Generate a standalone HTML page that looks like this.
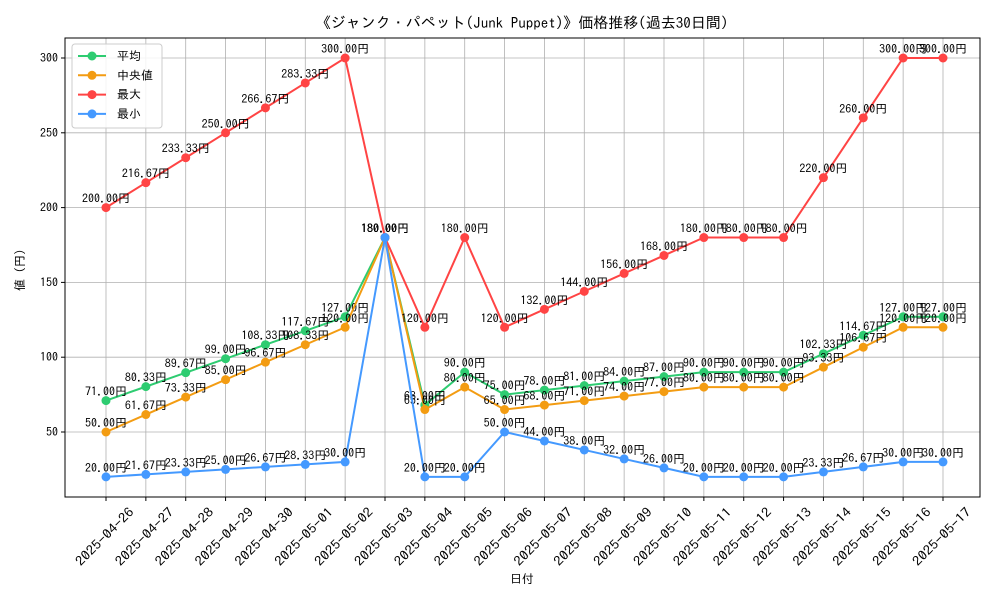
<!DOCTYPE html>
<html><head><meta charset="utf-8"><style>
body{margin:0;background:#fff}
svg text{font-family:"IPAGothic","Liberation Sans","Noto Sans CJK JP",sans-serif}
</style></head><body>
<svg id="c" width="1000" height="600" xmlns="http://www.w3.org/2000/svg"></svg>
<script>
const dates=["2025-04-26","2025-04-27","2025-04-28","2025-04-29","2025-04-30","2025-05-01","2025-05-02","2025-05-03","2025-05-04","2025-05-05","2025-05-06","2025-05-07","2025-05-08","2025-05-09","2025-05-10","2025-05-11","2025-05-12","2025-05-13","2025-05-14","2025-05-15","2025-05-16","2025-05-17"];
const meanVals=[71,80.33,89.67,99,108.33,117.67,127,180,68,90,75,78,81,84,87,90,90,90,102.33,114.67,127,127];
const medianVals=[50,61.67,73.33,85,96.67,108.33,120,180,65,80,65,68,71,74,77,80,80,80,93.33,106.67,120,120];
const maxVals=[200,216.67,233.33,250,266.67,283.33,300,180,120,180,120,132,144,156,168,180,180,180,220,260,300,300];
const minVals=[20,21.67,23.33,25,26.67,28.33,30,180,20,20,50,44,38,32,26,20,20,20,23.33,26.67,30,30];
const yTicks=[50,100,150,200,250,300];
const seriesNames=["平均","中央値","最大","最小"];
const colors=["#2ecc71","#f39c12","#ff4444","#4499ff"];
const L=65,R=980,T=38,B=497;
const x=i=>106+i*(943-106)/(dates.length-1);
const y=v=>432-(v-50)*(374/250);
const svg=document.getElementById('c');
const NS="http://www.w3.org/2000/svg";
function el(t,a,p){const e=document.createElementNS(NS,t);for(const k in a)e.setAttribute(k,a[k]);(p||svg).appendChild(e);return e;}
dates.forEach((d,i)=>{const g=el('line',{x1:x(i),x2:x(i),y1:T,y2:B,stroke:'#b0b0b0','stroke-width':0.8});


el('line',{x1:x(i),x2:x(i),y1:B,y2:B+4,stroke:'#000'});
const cx=x(i)-1,cy=B+40;
const t=el('text',{x:cx,y:cy+4,'font-size':13,'text-anchor':'middle',textLength:76,lengthAdjust:'spacingAndGlyphs',transform:`rotate(-45 ${cx} ${cy})`});t.textContent=d;

});
yTicks.forEach(v=>{const g=el('line',{x1:L,x2:R,y1:y(v),y2:y(v),stroke:'#b0b0b0','stroke-width':0.8});


el('line',{x1:L-4,x2:L,y1:y(v),y2:y(v),stroke:'#000'});
const t=el('text',{x:L-7,y:y(v)+4,'font-size':12,'text-anchor':'end'});t.textContent=v;

});
const fr=el('rect',{x:L,y:T,width:R-L,height:B-T,fill:'none',stroke:'#000','stroke-width':1});


const all=[meanVals,medianVals,maxVals,minVals];
const sn=['mean','median','max','min'];
all.forEach((vals,s)=>{
 const pl=el('polyline',{points:vals.map((v,i)=>x(i)+','+y(v)).join(' '),fill:'none',stroke:colors[s],'stroke-width':2});
 
 
 vals.forEach((v,i)=>{const c=el('circle',{cx:x(i),cy:y(v),r:4.5,fill:colors[s]});
 
 
 const t=el('text',{x:x(i),y:y(v)-5,'font-size':12,'text-anchor':'middle'});t.textContent=v.toFixed(2)+'円';
 
 });
});
const tt=el('text',{x:522,y:28,'font-size':15,'text-anchor':'middle'});tt.textContent='《ジャンク・パペット(Junk Puppet)》価格推移(過去30日間)';


const xl=el('text',{x:522,y:583,'font-size':12,'text-anchor':'middle'});xl.textContent='日付';


const yl=el('text',{x:24,y:270,'font-size':12,'text-anchor':'middle',transform:'rotate(-90 24 270)'});yl.textContent='値 (円)';


const lg=el('g',{});


el('rect',{x:72,y:44,width:90,height:84,fill:'#fff','fill-opacity':0.85,stroke:'#ccc',rx:3},lg);
seriesNames.forEach((n,s)=>{const yy=56+s*19.3;
 const g=el('g',{},lg);
 
 
 el('line',{x1:78,x2:106,y1:yy,y2:yy,stroke:colors[s],'stroke-width':2},g);
 el('circle',{cx:92,cy:yy,r:4.5,fill:colors[s]},g);
 const t=el('text',{x:117,y:yy+4,'font-size':12},g);t.textContent=n;});
</script>
</body></html>
